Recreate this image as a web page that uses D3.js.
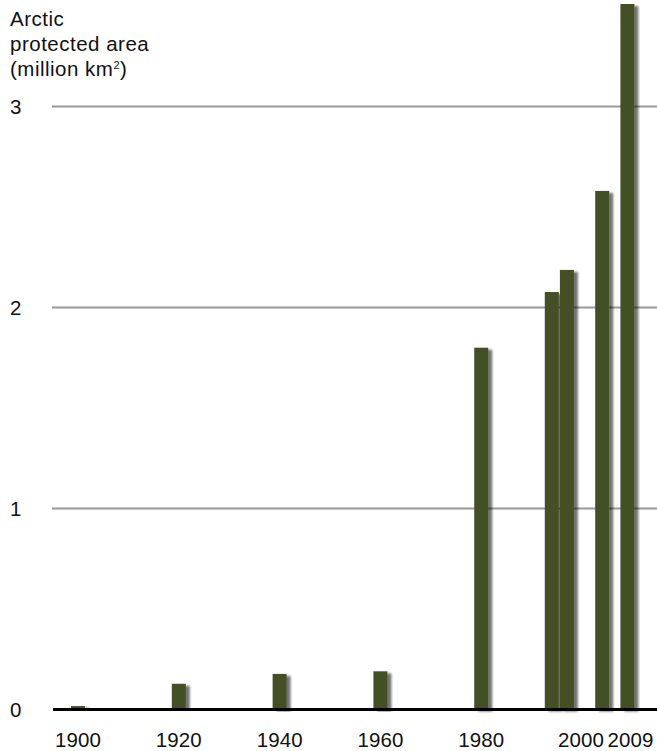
<!DOCTYPE html>
<html>
<head>
<meta charset="utf-8">
<script src="https://cdn.jsdelivr.net/npm/d3@7"></script>
<style>
  html, body { margin: 0; padding: 0; background: #fff; }
  text { font-family: "Liberation Sans", Arial, Helvetica, sans-serif; fill: #111; }
</style>
</head>
<body>
<svg id="chart" width="657" height="751"></svg>
<script>
const years = [1900, 1920, 1940, 1960, 1980, 1994, 1997, 2004, 2009];
const areas = [0.017, 0.128, 0.177, 0.19, 1.80, 2.077, 2.187, 2.58, 3.51];
const xTickLabels = [1900, 1920, 1940, 1960, 1980, 2000, 2009];
const yTickLabels = [0, 1, 2, 3];
const titleLines = ["Arctic", "protected area", "(million km", ")"];

const svg = d3.select("#chart");
const fontSize = 20.5, tickSpacing = 0.1, titleSpacing = 0.5;

const x = d3.scaleLinear().domain([1900, 2009]).range([78, 627.4]);
const y = d3.scaleLinear().domain([0, 3]).range([709.5, 106.5]);

const defs = svg.append("defs");
const f = defs.append("filter").attr("id", "shadow")
  .attr("x", "-20%").attr("y", "-5%").attr("width", "160%").attr("height", "110%");
f.append("feGaussianBlur").attr("in", "SourceAlpha").attr("stdDeviation", 1.2).attr("result", "b");
f.append("feOffset").attr("in", "b").attr("dx", 3.5).attr("dy", 1.5).attr("result", "o");
f.append("feComponentTransfer").attr("in", "o").attr("result", "o2")
  .append("feFuncA").attr("type", "linear").attr("slope", 0.55);
const m = f.append("feMerge");
m.append("feMergeNode").attr("in", "o2");
m.append("feMergeNode").attr("in", "SourceGraphic");

// gridlines
svg.append("g").selectAll("line").data(yTickLabels.filter(d => d > 0)).join("line")
  .attr("x1", 52).attr("x2", 657)
  .attr("y1", d => y(d)).attr("y2", d => y(d))
  .attr("stroke", "#999").attr("stroke-width", 2);

// y tick labels
svg.append("g").selectAll("text").data(yTickLabels).join("text")
  .attr("x", 10).attr("y", d => y(d) + 7.5)
  .attr("font-size", fontSize).attr("letter-spacing", tickSpacing)
  .text(d => d);

// bars
const bw = 14;
svg.append("g").selectAll("rect").data(years).join("rect")
  .attr("x", (d) => x(d) - bw / 2)
  .attr("width", bw)
  .attr("y", (d, i) => y(areas[i]))
  .attr("height", (d, i) => y(0) - y(areas[i]))
  .attr("fill", "#445026")
  .attr("filter", "url(#shadow)");

// baseline axis
svg.append("line").attr("x1", 53).attr("x2", 657)
  .attr("y1", y(0)).attr("y2", y(0))
  .attr("stroke", "#000").attr("stroke-width", 3);

// x tick labels
svg.append("g").selectAll("text").data(xTickLabels).join("text")
  .attr("x", d => x(d) + tickSpacing / 2 + (d === 2009 ? 3 : (d === 2000 ? -1 : 0))).attr("y", 747)
  .attr("text-anchor", "middle")
  .attr("font-size", fontSize).attr("letter-spacing", tickSpacing)
  .text(d => d);

// title
const t = svg.append("g");
t.append("text").attr("x", 10).attr("y", 26).attr("font-size", fontSize).attr("letter-spacing", titleSpacing).text(titleLines[0]);
t.append("text").attr("x", 10).attr("y", 51).attr("font-size", fontSize).attr("letter-spacing", titleSpacing).text(titleLines[1]);
const t3 = t.append("text").attr("x", 10).attr("y", 76).attr("font-size", fontSize).attr("letter-spacing", titleSpacing);
t3.append("tspan").text(titleLines[2]);
t3.append("tspan").attr("font-size", 11).attr("dy", -7).text("2");
t3.append("tspan").attr("dy", 7).text(titleLines[3]);
</script>
</body>
</html>
